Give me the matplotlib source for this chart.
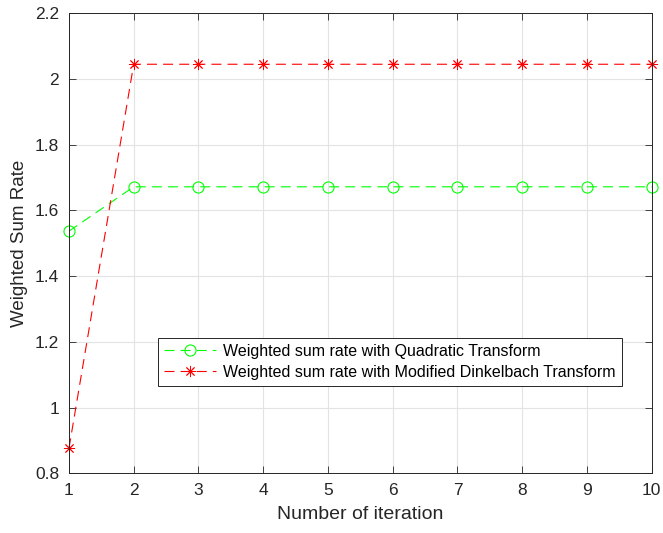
import matplotlib
matplotlib.use("Agg")
import matplotlib.pyplot as plt

iterations = [1, 2, 3, 4, 5, 6, 7, 8, 9, 10]
quadratic = [1.537, 1.672, 1.672, 1.672, 1.672, 1.672, 1.672, 1.672, 1.672, 1.672]
dinkelbach = [0.876, 2.045, 2.045, 2.045, 2.045, 2.045, 2.045, 2.045, 2.045, 2.045]
yticks = [0.8, 1, 1.2, 1.4, 1.6, 1.8, 2, 2.2]
yticklabels = ["0.8", "1", "1.2", "1.4", "1.6", "1.8", "2", "2.2"]

plt.rcParams['font.family'] = ['Liberation Sans', 'DejaVu Sans']

fig = plt.figure(figsize=(6.63, 5.33), dpi=100)
ax = fig.add_axes([0.104, 0.112, 0.879, 0.863])

dash = (0, (9, 5.5))
ax.plot(iterations, quadratic, linestyle=dash, color='#00ff00', linewidth=0.8,
        marker='o', markersize=8, markerfacecolor='none', markeredgecolor='#00ff00',
        markeredgewidth=0.8, clip_on=False,
        label='Weighted sum rate with Quadratic Transform')
ax.plot(iterations, dinkelbach, linestyle=dash, color='#ff0000', linewidth=0.8,
        marker=(8, 2, 0), markersize=8, markeredgecolor='#ff0000',
        markeredgewidth=0.65, clip_on=False,
        label='Weighted sum rate with Modified Dinkelbach Transform')

ax.set_xlim(1, 10)
ax.set_ylim(0.8, 2.2)
ax.set_xticks(iterations)
ax.set_yticks(yticks)
ax.set_yticklabels(yticklabels)
ax.grid(True, color='#e3e3e3', linewidth=0.8)
ax.set_axisbelow(True)
ax.tick_params(direction='in', top=True, right=True, labelsize=12.5, length=5,
               width=0.6, colors='#262626', pad=7)
for s in ax.spines.values():
    s.set_color('#262626')
    s.set_linewidth(0.7)

ax.set_xlabel('Number of iteration', fontsize=14, color='#262626', labelpad=6)
ax.set_ylabel('Weighted Sum Rate', fontsize=13.5, color='#262626', labelpad=5)

leg = ax.legend(loc='lower left', bbox_to_anchor=(0.1527, 0.19), borderaxespad=0,
                fontsize=11.5, frameon=True, fancybox=False, edgecolor='#262626',
                framealpha=1, handlelength=3.25, handletextpad=0.45,
                borderpad=0.4, labelspacing=0.35, numpoints=1)
leg.get_frame().set_linewidth(0.7)

fig.savefig('out.png', dpi=100)
